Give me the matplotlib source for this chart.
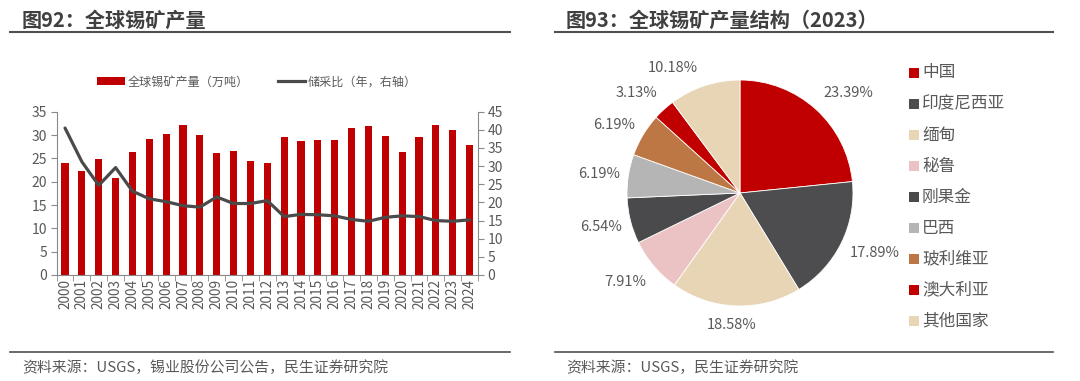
import matplotlib
matplotlib.use("Agg")
import matplotlib.pyplot as plt
from matplotlib.lines import Line2D
from matplotlib.patches import Patch
import numpy as np

plt.rcParams['font.family'] = ['Noto Sans CJK SC', 'DejaVu Sans']

# ---------------- data ----------------
years = [str(y) for y in range(2000, 2025)]
production = [23.9, 22.2, 24.9, 20.7, 26.4, 29.1, 30.3, 32.1, 30.0, 26.1,
              26.6, 24.5, 24.1, 29.5, 28.7, 29.0, 28.9, 31.4, 31.9, 29.7,
              26.4, 29.5, 32.1, 31.1, 27.9]
reserve_ratio = [40.5, 31.2, 24.7, 29.6, 23.1, 21.0, 20.2, 19.1, 18.7, 21.5,
                 19.7, 19.7, 20.5, 16.1, 16.7, 16.6, 16.3, 15.3, 14.8, 15.9,
                 16.3, 16.1, 15.0, 14.8, 15.2]

countries = ['中国', '印度尼西亚', '缅甸', '秘鲁', '刚果金', '巴西', '玻利维亚', '澳大利亚', '其他国家']
shares = [23.39, 17.89, 18.58, 7.91, 6.54, 6.19, 6.19, 3.13, 10.18]
pie_colors = ['#C00000', '#4D4D4F', '#E8D5B5', '#EBC3C4', '#4A4A4C',
              '#B5B5B5', '#BC7744', '#C00000', '#E8D5B5']
# label placement (in pie radius units, relative to the centre) mimicking Excel "best fit"
label_pos = [(0.956, 0.885), (1.195, -0.531), (-0.071, -1.168), (-1.018, -0.788),
             (-1.230, -0.301), (-1.248, 0.168), (-1.115, 0.602), (-0.920, 0.885),
             (-0.593, 1.106)]

TXT = '#595959'
DARK = '#404040'
RED = '#C00000'
LINE = '#4A4A4A'

W, H = 1080, 381
fig = plt.figure(figsize=(W / 100, H / 100), dpi=100)

def fx(px):
    return px / W

def fy(py):
    return 1 - py / H

# ---------------- headers / footers ----------------
fig.text(fx(22), fy(20), '图92：全球锡矿产量', fontsize=14.5, fontweight='bold',
         color=DARK, va='center', ha='left')
fig.text(fx(566), fy(20), '图93：全球锡矿产量结构（2023）', fontsize=14.5, fontweight='bold',
         color=DARK, va='center', ha='left')
for x0, x1 in [(10, 510), (555, 1053)]:
    fig.add_artist(Line2D([fx(x0), fx(x1)], [fy(32), fy(32)], color='#505050', lw=1.5))
    fig.add_artist(Line2D([fx(x0), fx(x1)], [fy(352), fy(352)], color='#505050', lw=1.2))
fig.text(fx(22), fy(368), '资料来源：USGS，锡业股份公司公告，民生证券研究院', fontsize=10.7,
         color=TXT, va='center', ha='left')
fig.text(fx(566), fy(368), '资料来源：USGS，民生证券研究院', fontsize=10.7,
         color=TXT, va='center', ha='left')

# ---------------- left: bar + line ----------------
ax = fig.add_axes([fx(56.6), fy(275), fx(478) - fx(56.6), fy(111.7) - fy(275)])
x = np.arange(len(years))
ax.bar(x, production, width=0.42, color=RED, zorder=2)
ax.set_xlim(-0.5, len(years) - 0.5)
ax.set_ylim(0, 35)
ax.set_yticks(np.arange(0, 36, 5))
ax.set_xticks(x)
ax.set_xticklabels(years, rotation=90)
ax.set_xticks(np.arange(-0.5, len(years), 1), minor=True)
ax.tick_params(axis='x', which='major', length=0, pad=3, labelsize=9.8, labelcolor=TXT)
ax.tick_params(axis='x', which='minor', length=4, color='#898989', direction='out')
ax.tick_params(axis='y', length=4, color='#898989', labelsize=10, labelcolor=TXT, pad=3)
for s in ['top', 'right']:
    ax.spines[s].set_visible(False)
for s in ['left', 'bottom']:
    ax.spines[s].set_color('#898989')
    ax.spines[s].set_linewidth(0.8)

ax2 = ax.twinx()
ax2.plot(x, reserve_ratio, color=LINE, lw=2.3, solid_joinstyle='round',
         solid_capstyle='round', zorder=3)
ax2.set_ylim(0, 45)
ax2.set_yticks(np.arange(0, 46, 5))
ax2.tick_params(axis='y', length=4, color='#898989', labelsize=10, labelcolor=TXT, pad=3)
for s in ['top', 'left', 'bottom']:
    ax2.spines[s].set_visible(False)
ax2.spines['right'].set_color('#898989')
ax2.spines['right'].set_linewidth(0.8)

handles = [Patch(facecolor=RED, edgecolor='none'),
           Line2D([0], [0], color=LINE, lw=2.3)]
fig.legend(handles, ['全球锡矿产量（万吨）', '储采比（年，右轴）'],
           loc='center', bbox_to_anchor=(fx(257), fy(82)), ncol=2, frameon=False,
           fontsize=8.7, labelcolor=TXT, handlelength=2.3, handleheight=0.6,
           handletextpad=0.2, columnspacing=2.4)

# ---------------- right: pie ----------------
cx, cy, r = 740, 193, 113
pax = fig.add_axes([fx(cx - r), fy(cy + r), fx(2 * r), fy(cy - r) - fy(cy + r)])
wedges, texts = pax.pie(shares, colors=pie_colors, startangle=90, counterclock=False,
                        labels=[f'{v:.2f}%' for v in shares], labeldistance=1.27,
                        wedgeprops=dict(edgecolor='white', linewidth=0.6),
                        textprops=dict(fontsize=10.5, color=TXT))
for t, pos in zip(texts, label_pos):
    t.set_position(pos)
    t.set_ha('center')
    t.set_va('center')
    t.set_clip_on(False)
pax.set_xlim(-1, 1)
pax.set_ylim(-1, 1)
pax.set_aspect('equal')
pax.axis('off')

# legend for pie
for i, (name, col) in enumerate(zip(countries, pie_colors)):
    yy = 73 + i * 31
    fig.add_artist(plt.Rectangle((fx(909), fy(yy + 5)), fx(10), fy(yy - 5) - fy(yy + 5),
                                 facecolor=col, edgecolor='none', transform=fig.transFigure))
    fig.text(fx(922), fy(yy), name, fontsize=12, color=TXT, va='center', ha='left')

fig.savefig('out.png', dpi=100)
